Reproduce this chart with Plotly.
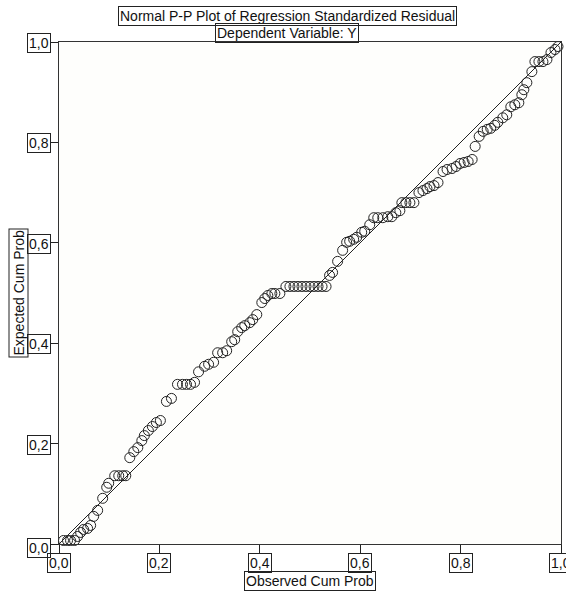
import plotly.graph_objects as go

# Observed cumulative probability (x) and expected cumulative probability (y)
observed_cum_prob = [
    0.009, 0.017, 0.023, 0.031, 0.037, 0.043, 0.049, 0.057, 0.063, 0.069,
    0.077, 0.087, 0.095, 0.099, 0.111, 0.119, 0.127, 0.133, 0.141, 0.149,
    0.157, 0.165, 0.170, 0.178, 0.186, 0.194, 0.202, 0.214, 0.224, 0.236,
    0.246, 0.254, 0.262, 0.270, 0.278, 0.290, 0.298, 0.308, 0.316, 0.326,
    0.334, 0.344, 0.350, 0.356, 0.364, 0.370, 0.380, 0.386, 0.394, 0.404,
    0.410, 0.416, 0.424, 0.430, 0.440, 0.452, 0.460, 0.468, 0.476, 0.484,
    0.492, 0.500, 0.508, 0.516, 0.524, 0.532, 0.539, 0.545, 0.555, 0.565,
    0.573, 0.579, 0.587, 0.593, 0.603, 0.609, 0.619, 0.627, 0.635, 0.645,
    0.655, 0.663, 0.671, 0.679, 0.683, 0.691, 0.699, 0.707, 0.717, 0.725,
    0.733, 0.739, 0.747, 0.755, 0.765, 0.773, 0.783, 0.791, 0.799, 0.807,
    0.815, 0.823, 0.829, 0.837, 0.845, 0.853, 0.860, 0.868, 0.874, 0.884,
    0.892, 0.900, 0.908, 0.916, 0.922, 0.926, 0.932, 0.942, 0.948, 0.956,
    0.964, 0.972, 0.980, 0.988, 0.994,
]
expected_cum_prob = [
    0.007, 0.007, 0.007, 0.007, 0.015, 0.023, 0.029, 0.031, 0.037, 0.055,
    0.067, 0.091, 0.113, 0.121, 0.136, 0.136, 0.136, 0.136, 0.172, 0.184,
    0.192, 0.206, 0.216, 0.226, 0.234, 0.242, 0.246, 0.284, 0.290, 0.318,
    0.318, 0.318, 0.318, 0.322, 0.343, 0.354, 0.358, 0.362, 0.381, 0.381,
    0.385, 0.403, 0.407, 0.423, 0.431, 0.435, 0.441, 0.447, 0.457, 0.481,
    0.489, 0.495, 0.499, 0.499, 0.499, 0.513, 0.513, 0.513, 0.513, 0.513,
    0.513, 0.513, 0.513, 0.513, 0.513, 0.513, 0.535, 0.541, 0.563, 0.585,
    0.601, 0.603, 0.607, 0.611, 0.621, 0.623, 0.636, 0.650, 0.650, 0.650,
    0.652, 0.652, 0.660, 0.664, 0.680, 0.680, 0.680, 0.680, 0.700, 0.704,
    0.708, 0.712, 0.714, 0.720, 0.742, 0.746, 0.748, 0.752, 0.758, 0.760,
    0.762, 0.766, 0.792, 0.812, 0.822, 0.826, 0.828, 0.834, 0.840, 0.849,
    0.855, 0.871, 0.875, 0.879, 0.895, 0.905, 0.919, 0.941, 0.961, 0.961,
    0.961, 0.965, 0.979, 0.985, 0.991,
]

ref_line_x = [0.0, 1.0]
ref_line_y = [0.0, 1.0]

tick_values = [0.0, 0.2, 0.4, 0.6, 0.8, 1.0]
tick_labels = ["0,0", "0,2", "0,4", "0,6", "0,8", "1,0"]

title_line1 = "Normal P-P Plot of Regression Standardized Residual"
title_line2 = "Dependent Variable: Y"
x_title = "Observed Cum Prob"
y_title = "Expected Cum Prob"

FONT = "Liberation Sans, Arial, sans-serif"
FS = 14

fig = go.Figure()
fig.add_trace(go.Scatter(
    x=ref_line_x, y=ref_line_y, mode="lines",
    line=dict(color="#222222", width=1), hoverinfo="skip", showlegend=False,
))
fig.add_trace(go.Scatter(
    x=observed_cum_prob, y=expected_cum_prob, mode="markers",
    marker=dict(symbol="circle-open", size=10, color="#222222",
                line=dict(width=1, color="#222222")),
    cliponaxis=False, showlegend=False,
))

annotations = []
box = dict(bordercolor="#222222", borderwidth=1, borderpad=1,
           font=dict(family=FONT, size=FS, color="#111111"), showarrow=False)

for v, lab in zip(tick_values, tick_labels):
    annotations.append(dict(text=lab, xref="paper", yref="y", x=0, y=v,
                            xanchor="right", yanchor="middle", xshift=-8,
                            yshift=(-4 if v == 0 else -1), **box))
    annotations.append(dict(text=lab, xref="x", yref="paper", x=v, y=0,
                            xanchor="center", yanchor="top", yshift=-9, **box))

annotations.append(dict(text=title_line1, xref="paper", yref="paper",
                        x=0.5, y=1, xanchor="center", yanchor="middle",
                        xshift=-23, yshift=26, **box))
annotations.append(dict(text=title_line2, xref="paper", yref="paper",
                        x=0.5, y=1, xanchor="center", yanchor="middle",
                        xshift=-23, yshift=9, **box))
annotations.append(dict(text=x_title, xref="paper", yref="paper",
                        x=0.5, y=0, xanchor="center", yanchor="middle",
                        yshift=-36.5, **box))
annotations.append(dict(text=y_title, xref="paper", yref="paper",
                        x=0, y=0.5, xanchor="center", yanchor="middle",
                        xshift=-40.5, textangle=-90, **box))

axis_common = dict(range=[0, 1], tickvals=tick_values, showticklabels=False,
                   ticks="outside", tickcolor="#222222", tickwidth=1,
                   showline=True, linecolor="#333333", linewidth=1, mirror=True,
                   showgrid=False, zeroline=False, fixedrange=True)

fig.update_layout(
    width=566, height=593,
    margin=dict(l=59, r=5, t=42, b=49, pad=0),
    paper_bgcolor="#ffffff", plot_bgcolor="#fefefc",
    xaxis=dict(ticklen=8, **axis_common),
    yaxis=dict(ticklen=7, **axis_common),
    annotations=annotations,
    font=dict(family=FONT, size=FS, color="#111111"),
)

fig.write_html(
    "out.html",
    config={"displayModeBar": False},
    post_script="document.body.style.margin='0';document.body.style.overflow='hidden';",
)
